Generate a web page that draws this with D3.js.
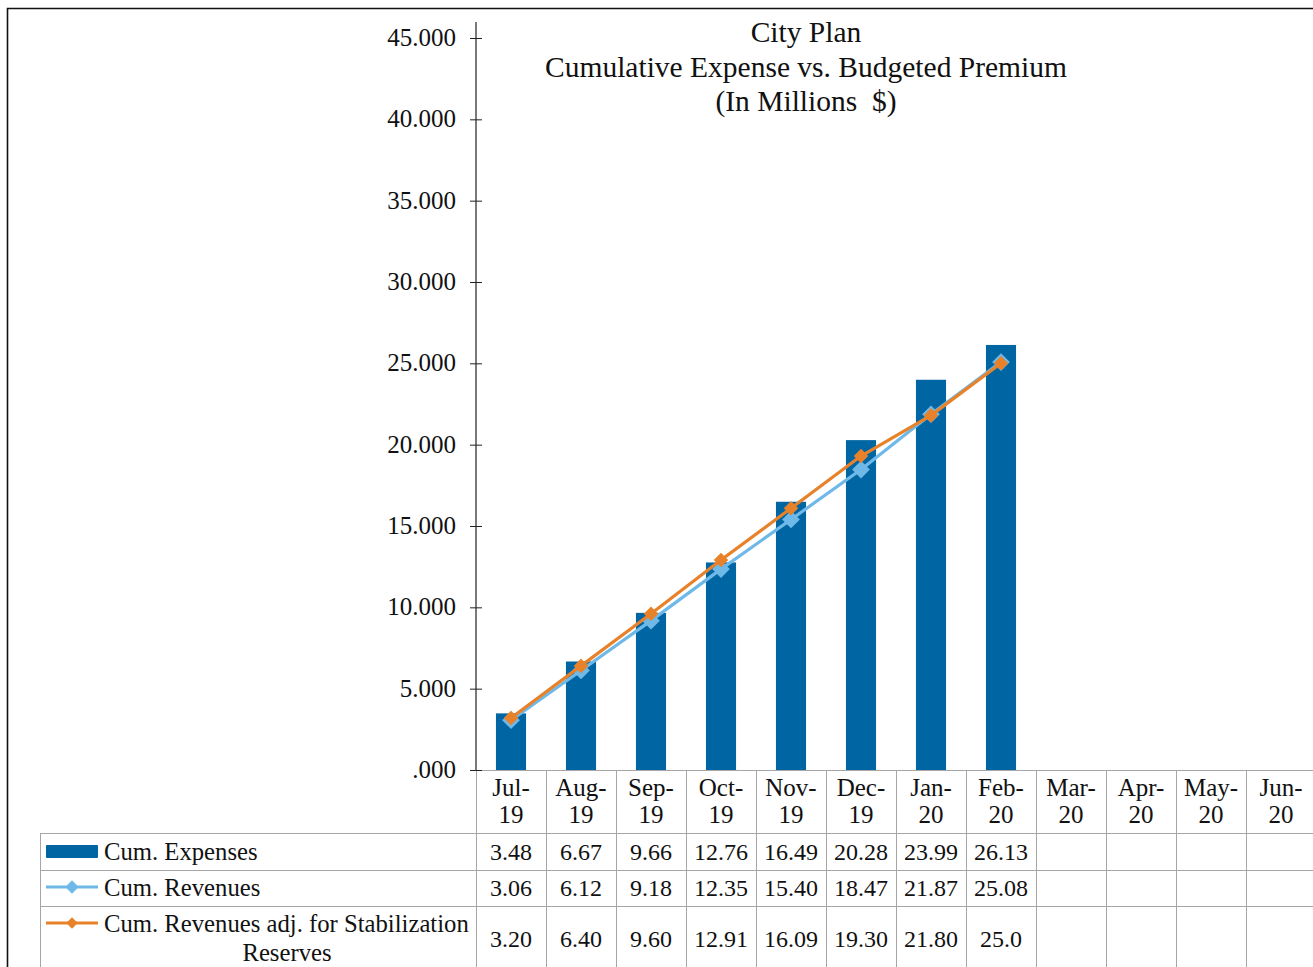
<!DOCTYPE html>
<html>
<head>
<meta charset="utf-8">
<script src="https://cdn.jsdelivr.net/npm/d3@7"></script>
<style>
  html, body { margin: 0; padding: 0; background: #fff; }
  svg text { font-family: "Liberation Serif", "Times New Roman", serif; fill: #111; }
</style>
</head>
<body>
<svg id="chart" width="1313" height="967"></svg>
<script>
// Month categories (two-line labels in the data-table header)
const months = ["Jul-19", "Aug-19", "Sep-19", "Oct-19", "Nov-19", "Dec-19",
                "Jan-20", "Feb-20", "Mar-20", "Apr-20", "May-20", "Jun-20"];

// Series values, in millions of dollars (null = not yet reported)
const cumExpenses = [3.48, 6.67, 9.66, 12.76, 16.49, 20.28, 23.99, 26.13, null, null, null, null];
const cumRevenues = [3.06, 6.12, 9.18, 12.35, 15.40, 18.47, 21.87, 25.08, null, null, null, null];
const cumRevenuesAdj = [3.20, 6.40, 9.60, 12.91, 16.09, 19.30, 21.80, 25.0, null, null, null, null];

// Text shown in the data table for each series
const expensesText = ["3.48", "6.67", "9.66", "12.76", "16.49", "20.28", "23.99", "26.13", "", "", "", ""];
const revenuesText = ["3.06", "6.12", "9.18", "12.35", "15.40", "18.47", "21.87", "25.08", "", "", "", ""];
const revenuesAdjText = ["3.20", "6.40", "9.60", "12.91", "16.09", "19.30", "21.80", "25.0", "", "", "", ""];

// Y-axis ticks
const yTicks = [0, 5, 10, 15, 20, 25, 30, 35, 40, 45];

const titleLines = ["City Plan", "Cumulative Expense vs. Budgeted Premium", "(In Millions\u00A0 $)"];

const colors = { bar: "#0065A3", rev: "#6FB9E8", adj: "#E8822A", grid: "#A6A6A6", axis: "#222" };

const svg = d3.select("#chart");

// Outer frame
svg.append("path")
  .attr("d", "M7.5,1000 V8.5 H1400")
  .attr("fill", "none").attr("stroke", "#111").attr("stroke-width", 1.6);

// Layout
const plotLeft = 476, plotRight = 1316, plotBottom = 770, plotTop = 38;
const x = d3.scaleBand().domain(months).range([plotLeft, plotRight]).padding(0);
const y = d3.scaleLinear().domain([0, 45]).range([plotBottom, plotTop]);
const barW = x.bandwidth() * 0.43;
const cx = m => x(m) + x.bandwidth() / 2;

// Title
const title = svg.append("text").attr("text-anchor", "middle").style("font-size", "29.5px");
titleLines.forEach((t, i) => {
  title.append("tspan").attr("x", 806).attr("y", 42 + i * 34.5).text(t);
});

// Y axis
const yAxis = d3.axisLeft(y).tickValues(yTicks).tickSize(6).tickPadding(14)
  .tickFormat(d => d3.format(".3f")(d).replace(/^0\./, "."));
const gy = svg.append("g").attr("transform", `translate(${plotLeft},0)`).call(yAxis);
gy.select(".domain").remove();
gy.selectAll(".tick line").attr("x1", -6).attr("x2", 6).attr("stroke", colors.axis);
gy.selectAll(".tick text").style("font-size", "25px").attr("font-family", null).attr("dy", "0.3em");
svg.append("line").attr("x1", plotLeft).attr("x2", plotLeft)
  .attr("y1", 22).attr("y2", plotBottom).attr("stroke", colors.axis).attr("stroke-width", 1.2);

// Bars
svg.append("g").selectAll("rect")
  .data(months.map((m, i) => ({ m, v: cumExpenses[i] })).filter(d => d.v != null))
  .join("rect")
  .attr("x", d => cx(d.m) - barW / 2)
  .attr("y", d => y(d.v))
  .attr("width", barW)
  .attr("height", d => y(0) - y(d.v))
  .attr("fill", colors.bar);

// Lines with diamond markers
function drawSeries(values, color, markerSize) {
  const pts = months.map((m, i) => ({ m, v: values[i] })).filter(d => d.v != null);
  svg.append("path").datum(pts)
    .attr("d", d3.line().x(d => cx(d.m)).y(d => y(d.v)))
    .attr("fill", "none").attr("stroke", color).attr("stroke-width", 3.2)
    .attr("stroke-linejoin", "round");
  svg.append("g").selectAll("path").data(pts).join("path")
    .attr("d", d3.symbol(d3.symbolDiamond2, markerSize))
    .attr("transform", d => `translate(${cx(d.m)},${y(d.v)})`)
    .attr("fill", color);
}
drawSeries(cumRevenues, colors.rev, 200);
drawSeries(cumRevenuesAdj, colors.adj, 135);

// Data table
const tableLeft = 40;
const rowY = [833, 870, 906, 1000];
const grid = svg.append("g").attr("stroke", colors.grid).attr("stroke-width", 1);
// baseline of the plot / top of header
grid.append("line").attr("x1", plotLeft).attr("x2", plotRight).attr("y1", plotBottom + 0.5).attr("y2", plotBottom + 0.5);
rowY.slice(0, 3).forEach(ry => {
  grid.append("line").attr("x1", tableLeft).attr("x2", plotRight).attr("y1", ry + 0.5).attr("y2", ry + 0.5);
});
grid.append("line").attr("x1", tableLeft + 0.5).attr("x2", tableLeft + 0.5).attr("y1", rowY[0]).attr("y2", 1000);
months.forEach(m => {
  grid.append("line").attr("x1", x(m) + 0.5).attr("x2", x(m) + 0.5).attr("y1", plotBottom).attr("y2", 1000);
});
grid.append("line").attr("x1", plotRight - 0.5).attr("x2", plotRight - 0.5).attr("y1", plotBottom).attr("y2", 1000);
// zero tick drawn over the gray baseline
svg.append("line").attr("x1", plotLeft - 6).attr("x2", plotLeft + 6)
  .attr("y1", plotBottom + 0.5).attr("y2", plotBottom + 0.5).attr("stroke", colors.axis);

// Header labels
const hdr = svg.append("g").style("font-size", "25px").attr("text-anchor", "middle");
months.forEach(m => {
  const [mon, yr] = m.split("-");
  const t = hdr.append("text").attr("x", cx(m));
  t.append("tspan").attr("x", cx(m)).attr("y", 796).text(mon + "-");
  t.append("tspan").attr("x", cx(m)).attr("y", 823).text(yr);
});

// Value rows
const rows = [
  { texts: expensesText, yText: 860 },
  { texts: revenuesText, yText: 896 },
  { texts: revenuesAdjText, yText: 947 }
];
const vals = svg.append("g").style("font-size", "24px").attr("text-anchor", "middle");
rows.forEach(r => {
  months.forEach((m, i) => {
    if (r.texts[i]) vals.append("text").attr("x", cx(m)).attr("y", r.yText).text(r.texts[i]);
  });
});

// Legend keys and labels
const leg = svg.append("g").style("font-size", "24.7px");
leg.append("rect").attr("x", 46).attr("y", 845).attr("width", 52).attr("height", 13).attr("fill", colors.bar).attr("rx", 1);
[[colors.rev, 887, 150], [colors.adj, 923, 110]].forEach(([c, ly, s]) => {
  leg.append("line").attr("x1", 46).attr("x2", 98).attr("y1", ly).attr("y2", ly).attr("stroke", c).attr("stroke-width", 3.2);
  leg.append("path").attr("d", d3.symbol(d3.symbolDiamond2, s * 0.75)).attr("transform", `translate(72,${ly})`).attr("fill", c);
});
leg.append("text").attr("x", 104).attr("y", 860).text("Cum. Expenses");
leg.append("text").attr("x", 104).attr("y", 896).text("Cum. Revenues");
leg.append("text").attr("x", 104).attr("y", 932).text("Cum. Revenues adj. for Stabilization");
leg.append("text").attr("x", 287).attr("y", 961).attr("text-anchor", "middle").text("Reserves");
</script>
</body>
</html>
